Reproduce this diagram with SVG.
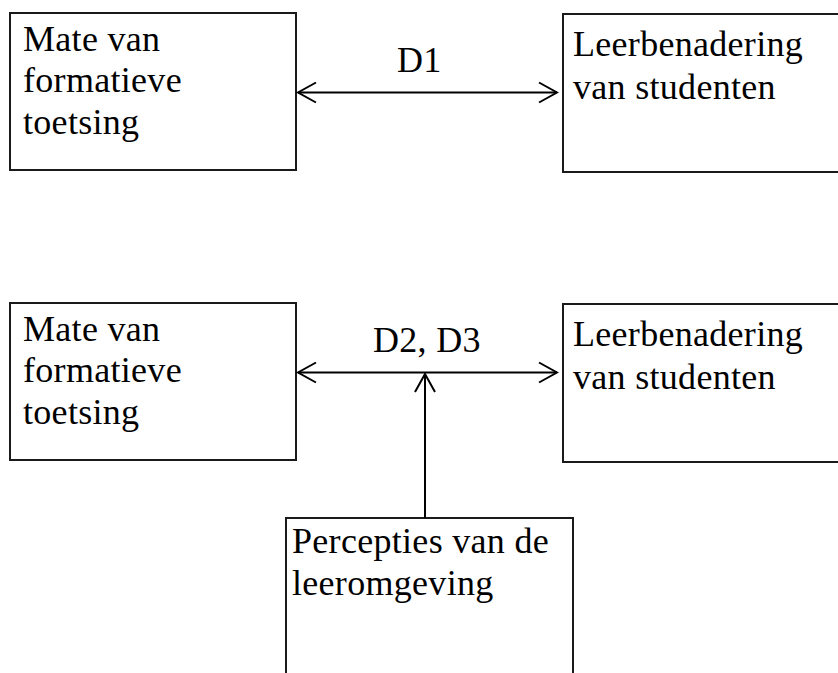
<svg xmlns="http://www.w3.org/2000/svg" width="838" height="673" viewBox="0 0 838 673">
<style>
.box{fill:#fff;stroke:#1a1a1a;stroke-width:2}
.t{font-family:"Liberation Serif","Times New Roman",serif;font-size:36px;letter-spacing:0.3px;fill:#000}
.c{fill:none;stroke:#000;stroke-width:2}
</style>
<defs>
<marker id="ah" markerUnits="userSpaceOnUse" viewBox="-20 -12 22 24" refX="0" refY="0" markerWidth="22" markerHeight="24" orient="auto-start-reverse">
<path d="M-18,-10 L0,0 L-18,10" fill="none" stroke="#000" stroke-width="2"/>
</marker>
</defs>
<rect width="838" height="673" fill="#fff"/>
<g id="n1"><rect class="box" x="10" y="13" width="286" height="157"/>
<text class="t" x="23" y="51">Mate van</text><text class="t" x="23" y="92">formatieve</text><text class="t" x="23" y="134">toetsing</text></g>
<g id="n2"><rect class="box" x="563" y="14" width="290" height="158"/>
<text class="t" x="573" y="56">Leerbenadering</text><text class="t" x="573" y="99">van studenten</text></g>
<g id="n3"><rect class="box" x="10" y="303" width="286" height="157"/>
<text class="t" x="23" y="341">Mate van</text><text class="t" x="23" y="382">formatieve</text><text class="t" x="23" y="424">toetsing</text></g>
<g id="n4"><rect class="box" x="563" y="304" width="290" height="158"/>
<text class="t" x="573" y="346">Leerbenadering</text><text class="t" x="573" y="389">van studenten</text></g>
<g id="n5"><rect class="box" x="286" y="518" width="287" height="170"/>
<text class="t" x="292" y="553">Percepties van de</text><text class="t" x="292" y="595">leeromgeving</text></g>
<g id="connectors">
<line class="c" x1="298" y1="92.5" x2="557" y2="92.5" marker-start="url(#ah)" marker-end="url(#ah)"/>
<text class="t" x="397" y="72">D1</text>
<line class="c" x1="298" y1="372.5" x2="557" y2="372.5" marker-start="url(#ah)" marker-end="url(#ah)"/>
<text class="t" x="373" y="352">D2, D3</text>
<line class="c" x1="425" y1="518" x2="425" y2="374" marker-end="url(#ah)"/>
</g>
</svg>
